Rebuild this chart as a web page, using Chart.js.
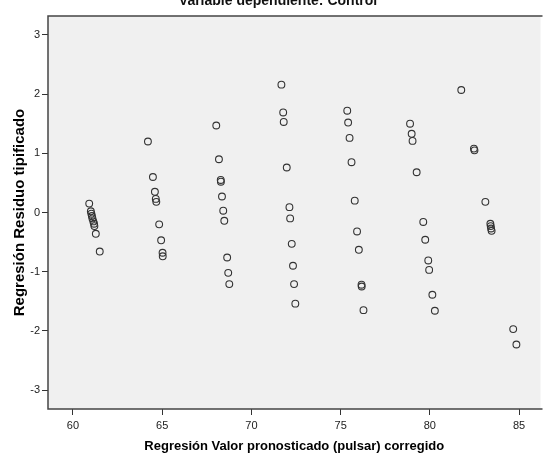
<!DOCTYPE html>
<html>
<head>
<meta charset="utf-8">
<script src="https://cdn.jsdelivr.net/npm/chart.js@4.4.0/dist/chart.umd.min.js"></script>
<style>
  html, body { margin: 0; padding: 0; background: #fff; overflow: hidden; }
  #wrap { position: relative; width: 545px; height: 464px; }
</style>
</head>
<body>
<div id="wrap"><canvas id="residChart"></canvas></div>
<script>
// valores (pronosticado corregido / residuo tipificado)
const predicted = [
  60.91, 61.00, 61.03, 61.06, 61.09, 61.14, 61.18, 61.20, 61.28, 61.50,
  64.20, 64.48, 64.59, 64.64, 64.67, 64.83, 64.94, 65.02, 65.03,
  68.03, 68.18, 68.28, 68.29, 68.35, 68.42, 68.48, 68.64, 68.70, 68.76,
  71.68, 71.78, 71.81, 71.98, 72.13, 72.17, 72.26, 72.33, 72.39, 72.46,
  75.37, 75.42, 75.50, 75.61, 75.79, 75.92, 76.02, 76.17, 76.18, 76.28,
  78.89, 78.98, 79.03, 79.26, 79.63, 79.74, 79.91, 79.96, 80.14, 80.28,
  81.76, 82.47, 82.50, 83.11, 83.39, 83.41, 83.43, 83.46,
  84.67, 84.85
];
const residual = [
  0.15, 0.02, -0.02, -0.06, -0.10, -0.15, -0.19, -0.23, -0.36, -0.66,
  1.20, 0.60, 0.35, 0.23, 0.18, -0.20, -0.47, -0.68, -0.74,
  1.47, 0.90, 0.55, 0.52, 0.27, 0.03, -0.14, -0.76, -1.02, -1.21,
  2.16, 1.69, 1.53, 0.76, 0.09, -0.10, -0.53, -0.90, -1.21, -1.54,
  1.72, 1.52, 1.26, 0.85, 0.20, -0.32, -0.63, -1.22, -1.25, -1.65,
  1.50, 1.33, 1.21, 0.68, -0.16, -0.46, -0.81, -0.97, -1.39, -1.66,
  2.07, 1.08, 1.05, 0.18, -0.19, -0.23, -0.27, -0.31,
  -1.97, -2.23
];
const xTicks = [60, 65, 70, 75, 80, 85];
const yTicks = [-3, -2, -1, 0, 1, 2, 3];

const chartTitle = "Variable dependiente: Control";
const xLabel = "Regresión Valor pronosticado (pulsar) corregido";
const yLabel = "Regresión Residuo tipificado";

const points = predicted.map((v, i) => ({ x: v, y: residual[i] }));

const tickFont = { family: "'Liberation Sans Narrow', 'Liberation Sans', Arial, sans-serif", size: 11 };
const xLabelFont = { family: "'Liberation Sans', Arial, sans-serif", size: 13, weight: "bold" };
const yLabelFont = { family: "'Liberation Sans', Arial, sans-serif", size: 15, weight: "bold" };

// fondo gris del area y marco (izq, arriba, abajo), titulo cortado arriba
const frame = {
  id: "frame",
  beforeDraw(chart) {
    const { ctx, chartArea: a } = chart;
    ctx.save();
    ctx.fillStyle = "#f0f0f0";
    ctx.fillRect(a.left, a.top, a.right - a.left, a.bottom - a.top);
    ctx.restore();
  },
  afterDraw(chart) {
    const { ctx, chartArea: a } = chart;
    ctx.save();
    ctx.strokeStyle = "#444";
    ctx.lineWidth = 1.5;
    ctx.beginPath();
    ctx.moveTo(a.right + 2, a.top);
    ctx.lineTo(a.left, a.top);
    ctx.lineTo(a.left, a.bottom);
    ctx.lineTo(a.right + 2, a.bottom);
    ctx.stroke();
    ctx.fillStyle = "#111";
    ctx.font = "bold 14px 'Liberation Sans', Arial, sans-serif";
    ctx.textAlign = "center";
    ctx.textBaseline = "alphabetic";
    ctx.fillText(chartTitle, 278, 5);
    ctx.restore();
  }
};

new Chart(document.getElementById("residChart"), {
  type: "scatter",
  data: {
    datasets: [{
      data: points,
      pointStyle: "circle",
      pointRadius: 3.4,
      pointHoverRadius: 3.4,
      borderWidth: 1.1,
      borderColor: "#333",
      backgroundColor: "rgba(0,0,0,0)"
    }]
  },
  options: {
    responsive: true,
    maintainAspectRatio: false,
    animation: false,
    layout: { padding: { top: 16, right: 0, left: 0, bottom: 0 } },
    plugins: { legend: { display: false }, tooltip: { enabled: false } },
    scales: {
      x: {
        type: "linear",
        min: 58.6,
        max: 86.2,
        afterBuildTicks: s => { s.ticks = xTicks.map(v => ({ value: v })); },
        afterFit: s => { s.height = 55; },
        border: { display: false },
        grid: { drawOnChartArea: false, drawTicks: true, tickLength: 6, color: "#333", lineWidth: 1 },
        ticks: { font: tickFont, color: "#222", padding: 4, maxRotation: 0 },
        title: { display: true, text: xLabel, font: xLabelFont, color: "#000", padding: { top: 0, bottom: 10 } }
      },
      y: {
        type: "linear",
        min: -3.32,
        max: 3.32,
        afterBuildTicks: s => { s.ticks = yTicks.map(v => ({ value: v })); },
        afterFit: s => { s.width = 48; },
        border: { display: false },
        grid: { drawOnChartArea: false, drawTicks: true, tickLength: 6, color: "#333", lineWidth: 1 },
        ticks: { font: tickFont, color: "#222", padding: 2 },
        title: { display: true, text: yLabel, font: yLabelFont, color: "#000", padding: { top: 11, bottom: 0 } }
      }
    }
  },
  plugins: [frame]
});
</script>
</body>
</html>
